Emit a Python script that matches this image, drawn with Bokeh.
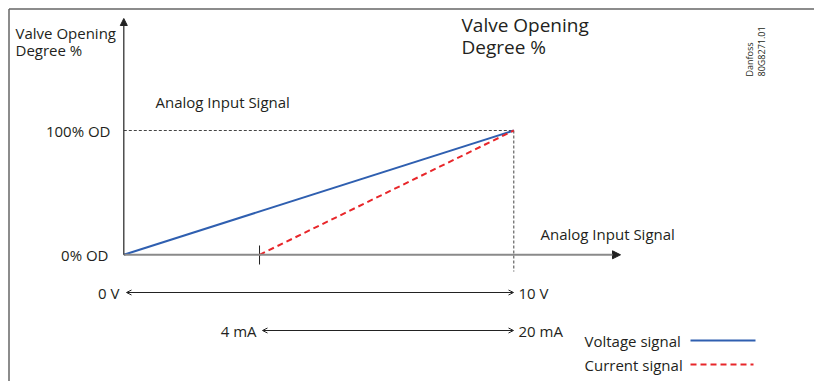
from bokeh.plotting import figure
from bokeh.models import Range1d, Arrow, NormalHead, OpenHead
from bokeh.core.properties import value
from bokeh.embed import file_html
from bokeh.resources import INLINE

# ---- data ----
od_levels = [0, 100]                 # valve opening degree %
od_labels = ["0% OD", "100% OD"]
volt_signal = [0, 10]                # V
volt_labels = ["0 V", "10 V"]
curr_signal = [4, 20]                # mA
curr_labels = ["4 mA", "20 mA"]
voltage_od = [0, 100]
current_od = [0, 100]
curr_start_pos = 3.48                # chart position of 4 mA (schematic)

def ma_pos(ma):
    return curr_start_pos + (ma - curr_signal[0]) / (curr_signal[1] - curr_signal[0]) * (volt_signal[1] - curr_start_pos)

curr_x = [ma_pos(m) for m in curr_signal]

# ---- layout mapping (page px -> data) ----
OFF = 0
X0, KX = 123.3, 39.0
Y0, KY = 254.3, 1.243
def X(px): return (px - X0) / KX
def Y(py): return (Y0 - py) / KY

W, H = 814, 381
p = figure(width=W, height=H, output_backend="svg", toolbar_location=None,
           x_range=Range1d(X(OFF), X(OFF + W)), y_range=Range1d(Y(OFF + H), Y(OFF)),
           min_border=0, outline_line_color=None)
p.axis.visible = False
p.grid.visible = False
p.background_fill_color = "white"

TXT = "#231f20"
FONT = value("Open Sans")
S = "15px"

# frame (top + left)
p.segment(x0=[X(8.5), X(8.5)], y0=[Y(8.5), Y(8.5)], x1=[X(OFF + W), X(8.5)], y1=[Y(8.5), Y(OFF + H)],
          line_color="#666666", line_width=1.5)

# guides
p.segment(x0=[0], y0=[100], x1=[10], y1=[100], line_color="#444444", line_width=1, line_dash="3 2")
p.segment(x0=[10], y0=[100], x1=[10], y1=[Y(271)], line_color="#444444", line_width=1, line_dash="3 2")

# axes
p.add_layout(Arrow(x_start=0, y_start=0, x_end=X(620), y_end=0, line_color="#8a8a8a", line_width=2,
                   end=NormalHead(size=8, fill_color="#222222", line_color="#222222")))
p.add_layout(Arrow(x_start=0, y_start=0, x_end=0, y_end=Y(18), line_color="#333333", line_width=1.3,
                   end=NormalHead(size=7, fill_color="#222222", line_color="#222222")))

# 4 mA tick
p.segment(x0=[curr_x[0]], y0=[Y(245)], x1=[curr_x[0]], y1=[Y(264)], line_color="#222222", line_width=1)

# signal lines
p.line(volt_signal, voltage_od, line_color="#2f5fb0", line_width=2)
p.line(curr_x, current_od, line_color="#e8262a", line_width=2, line_dash="6 4")

# dimension arrows
p.add_layout(Arrow(x_start=X(126), y_start=Y(292), x_end=X(513), y_end=Y(292), line_color="#222222", line_width=1,
                   start=OpenHead(size=5, line_width=1, line_color="#222222"),
                   end=OpenHead(size=5, line_width=1, line_color="#222222")))
p.add_layout(Arrow(x_start=X(262), y_start=Y(330), x_end=X(513), y_end=Y(330), line_color="#222222", line_width=1,
                   start=OpenHead(size=5, line_width=1, line_color="#222222"),
                   end=OpenHead(size=5, line_width=1, line_color="#222222")))

def txt(x, y, t, size=S, align="left", angle=0, baseline="middle"):
    p.text(x=[x], y=[y], text=[t], text_font=FONT, text_font_size=size, text_color=TXT,
           text_align=align, text_baseline=baseline, angle=angle)

# y tick labels
txt(X(110), od_levels[1], od_labels[1], align="right")
txt(X(108), od_levels[0], od_labels[0], align="right")
# x dimension labels
txt(X(119), Y(292), volt_labels[0], align="right")
txt(X(518), Y(292), volt_labels[1])
txt(X(256), Y(330), curr_labels[0], align="right")
txt(X(518), Y(330), curr_labels[1])

# titles
txt(X(15), Y(32), "Valve Opening")
txt(X(15), Y(49), "Degree %")
txt(X(155), Y(101), "Analog Input Signal")
txt(X(540), Y(233), "Analog Input Signal")
txt(X(461), Y(24), "Valve Opening", size="19px")
txt(X(461), Y(46), "Degree %", size="19px")

# stamp
txt(X(749), Y(76), "Danfoss", size="9px", angle=1.5708)
txt(X(761), Y(76), "80G8271.01", size="9px", angle=1.5708)

# legend
txt(X(584), Y(340), "Voltage signal")
txt(X(584), Y(364), "Current signal")
p.segment(x0=[X(690)], y0=[Y(340)], x1=[X(755)], y1=[Y(340)], line_color="#2f5fb0", line_width=2)
p.segment(x0=[X(690)], y0=[Y(364)], x1=[X(753)], y1=[Y(364)], line_color="#e8262a", line_width=2, line_dash="6 4")

open("out.html", "w").write(file_html(p, INLINE))
